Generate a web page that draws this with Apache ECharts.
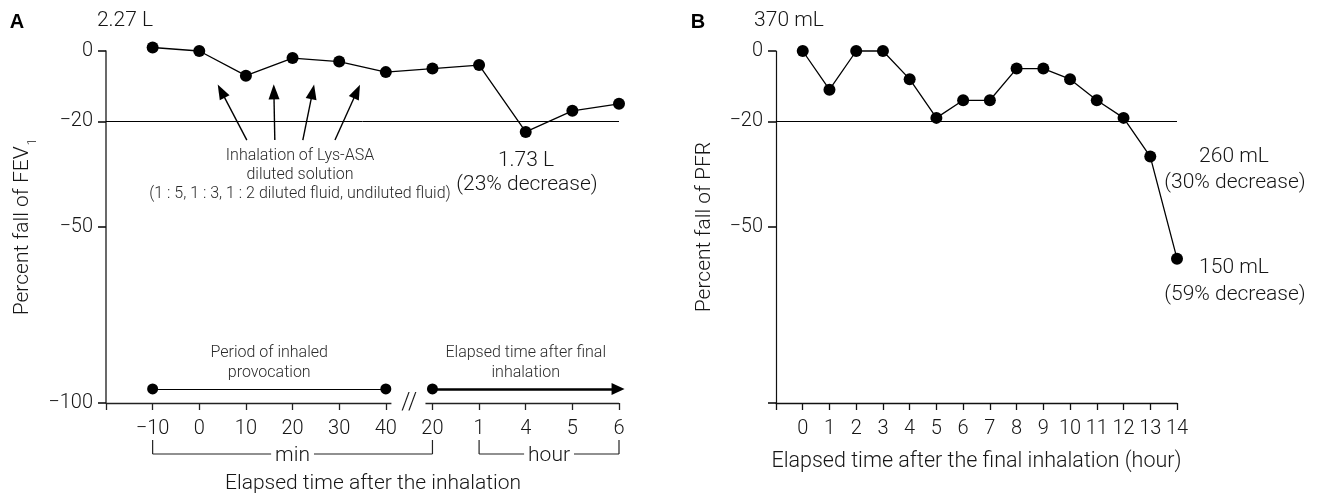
<!DOCTYPE html>
<html><head><meta charset="utf-8">
<script src="https://cdn.jsdelivr.net/npm/echarts@6/dist/echarts.min.js"></script>
<style>html,body{margin:0;padding:0;background:#fff}#c{width:1317px;height:499px}</style>
</head><body><div id="c"></div>
<script>
// ---------- data ----------
const ticksA = ['', '\u221210', '0', '10', '20', '30', '40', '20', '1', '4', '5', '6'];
const fevFall = [1, 0, -7, -2, -3, -6, -5, -4, -23, -17, -15];      // slots 1..11 of panel A
const hoursB = ['0','1','2','3','4','5','6','7','8','9','10','11','12','13','14'];
const pfrFall = [0, -11, 0, 0, -8, -19, -14, -14, -5, -5, -8, -14, -19, -30, -59];
const yTicks = [-100, -50, -20, 0];
const yLabelsB = [-50, -20, 0];
const threshold = -20;
// annotation arrows in panel A (from label up toward the early points), [x, y] in data units
const arrowsA = [
  [[3.02, -25.3], [2.47, -11.4]],
  [[3.62, -25.3], [3.60, -11.6]],
  [[4.22, -25.3], [4.43, -11.6]],
  [[4.91, -25.3], [5.38, -11.5]]
];
const periodY = -96;

const FONT = 'Roboto, "Liberation Sans", Arial, sans-serif';
const TXT = '#161616';
const minus = v => String(v).replace('-', '\u2212');

const chart = echarts.init(document.getElementById('c'));

const lineSty = { color: '#000', width: 1, type: 'solid' };

const markA = [
  [{ coord: [0, threshold] }, { coord: [11, threshold] }],
  // x-axis with break
  [{ coord: [0, -100], lineStyle: { color: '#222', width: 1.4 } }, { coord: [6.12, -100] }],
  [{ coord: [6.85, -100], lineStyle: { color: '#222', width: 1.4 } }, { coord: [11, -100] }],
  // period of inhaled provocation
  [{ coord: [1, periodY], symbol: 'circle', symbolSize: 11, lineStyle: { width: 1.2, color: '#000' } },
   { coord: [6, periodY], symbol: 'circle', symbolSize: 11 }],
  // elapsed time after final inhalation
  [{ coord: [7, periodY], symbol: 'circle', symbolSize: 11, lineStyle: { width: 2.6, color: '#000' } },
   { coord: [10.98, periodY], symbol: 'triangle', symbolSize: [12, 13] }]
];
arrowsA.forEach(a => {
  markA.push([{ coord: a[0], lineStyle: { width: 1.4, color: '#000' } },
              { coord: a[1], symbol: 'triangle', symbolSize: [11, 15] }]);
});

const yAxisCommon = (gridIndex, labelVals, lineColor, lineW, name, nameGap, nameSize) => ({
  type: 'value', gridIndex, min: -100, max: 0,
  splitLine: { show: false },
  axisLine: { show: true, onZero: false, lineStyle: { color: lineColor, width: lineW } },
  axisTick: { show: true, customValues: yTicks, length: 8, lineStyle: { color: '#111', width: 1.6 } },
  axisLabel: { customValues: labelVals, formatter: minus, fontFamily: FONT, fontWeight: 300, fontSize: 20, color: TXT, margin: 13 },
  name, nameLocation: 'middle', nameRotate: 90, nameGap,
  nameTextStyle: { fontFamily: FONT, fontWeight: 300, fontSize: nameSize, color: TXT,
    rich: { sub: { fontFamily: FONT, fontWeight: 300, fontSize: 12, color: TXT, verticalAlign: 'bottom', padding: [0, 0, -6, 1] } } }
});

const option = {
  animation: false,
  backgroundColor: '#fff',
  grid: [
    { left: 106, top: 51, width: 513, height: 352 },
    { left: 776, top: 51, width: 401, height: 352 }
  ],
  xAxis: [
    { type: 'value', gridIndex: 0, min: 0, max: 11, interval: 1,
      splitLine: { show: false }, axisLine: { show: false, onZero: false },
      axisTick: { show: true, length: 7, lineStyle: { color: '#222', width: 1.3 } },
      axisLabel: { formatter: v => ticksA[v] || '', fontFamily: FONT, fontWeight: 300, fontSize: 20, color: TXT, margin: 16 } },
    { type: 'value', gridIndex: 1, min: 0, max: 15, interval: 1,
      splitLine: { show: false },
      axisLine: { show: true, onZero: false, lineStyle: { color: '#111', width: 1.3 } },
      axisTick: { show: true, length: 7, lineStyle: { color: '#111', width: 1.3 } },
      axisLabel: { formatter: v => (v === 0 ? '' : hoursB[v - 1]), fontFamily: FONT, fontWeight: 300, fontSize: 20, color: TXT, margin: 16 },
      name: 'Elapsed time after the final inhalation (hour)', nameLocation: 'middle', nameGap: 48,
      nameTextStyle: { fontFamily: FONT, fontWeight: 300, fontSize: 21.5, color: TXT } }
  ],
  yAxis: [
    yAxisCommon(0, yTicks, '#444', 1.6, 'Percent fall of FEV{sub|1}', 73, 21),
    yAxisCommon(1, yLabelsB, '#111', 1.2, 'Percent fall of PFR', 61, 21)
  ],
  series: [
    { type: 'line', xAxisIndex: 0, yAxisIndex: 0, clip: false, silent: true,
      data: fevFall.map((v, i) => [i + 1, v]),
      symbol: 'circle', symbolSize: 12, itemStyle: { color: '#000' },
      lineStyle: { color: '#000', width: 1.3 },
      markLine: { silent: true, symbol: ['none', 'none'], label: { show: false }, lineStyle: lineSty,
        emphasis: { disabled: true }, data: markA } },
    { type: 'line', xAxisIndex: 1, yAxisIndex: 1, clip: false, silent: true,
      data: pfrFall.map((v, i) => [i + 1, v]),
      symbol: 'circle', symbolSize: 12, itemStyle: { color: '#000' },
      lineStyle: { color: '#000', width: 1.3 },
      markLine: { silent: true, symbol: ['none', 'none'], label: { show: false }, lineStyle: lineSty,
        emphasis: { disabled: true },
        data: [[{ coord: [0, threshold] }, { coord: [15, threshold] }]] } }
  ]
};
chart.setOption(option);

// ---------- annotations ----------
const px = (g, x, y) => chart.convertToPixel({ gridIndex: g }, [x, y]);
const bottomY = px(0, 0, -100)[1];
const t = (text, x, y, size, extra) => ({
  type: 'text', x, y, silent: true,
  style: Object.assign({ text, fontFamily: FONT, fontWeight: 300, fontSize: size, fill: TXT,
    align: 'center', verticalAlign: 'middle' }, extra || {})
});
const seg = (x1, y1, x2, y2) => ({ type: 'line', silent: true, shape: { x1, y1, x2, y2 },
  style: { stroke: '#222', lineWidth: 1.2 } });

const bTop = bottomY + 37, bBot = bottomY + 51;
const xs = k => px(0, k, -100)[0];
const bracket = (k1, k2, label) => {
  const a = xs(k1), b = xs(k2);
  return [seg(a, bTop, a, bBot), seg(a, bBot, b, bBot), seg(b, bTop, b, bBot),
    t(label, (a + b) / 2, bBot + 2, 21, { backgroundColor: '#fff', padding: [0, 4] })];
};

const SMALL = 16;
const gA = [
  t('A', 17, 22, 20, { fontFamily: '"Liberation Sans", Arial, sans-serif', fontWeight: 'bold', fill: '#000' }),
  t('2.27 L', 125, 21, 21),
  t('1.73 L', 526, 161, 21),
  t('(23% decrease)', 527, 185, 21),
  t('Inhalation of Lys-ASA', 300, 156, SMALL, { fill: '#2a2a2a' }),
  t('diluted solution', 300, 175, SMALL, { fill: '#2a2a2a' }),
  t('(1 : 5, 1 : 3, 1 : 2 diluted fluid, undiluted fluid)', 300, 194, SMALL, { fill: '#2a2a2a' }),
  t('Period of inhaled', (xs(1) + xs(6)) / 2, 353, SMALL, { fill: '#2a2a2a' }),
  t('provocation', (xs(1) + xs(6)) / 2, 373, SMALL, { fill: '#2a2a2a' }),
  t('Elapsed time after final', (xs(7) + xs(11)) / 2, 353, SMALL, { fill: '#2a2a2a' }),
  t('inhalation', (xs(7) + xs(11)) / 2, 373, SMALL, { fill: '#2a2a2a' }),
  t('//', (xs(6) + xs(7)) / 2, bottomY, 23),
  t('Elapsed time after the inhalation', 373, 484, 21)
].concat(bracket(1, 7, 'min'), bracket(8, 11, 'hour'));

const gB = [
  t('B', 698, 22, 20, { fontFamily: '"Liberation Sans", Arial, sans-serif', fontWeight: 'bold', fill: '#000' }),
  t('370 mL', 789, 21, 21),
  t('260 mL', 1234, 157, 21),
  t('(30% decrease)', 1235, 183, 21),
  t('150 mL', 1234, 268, 21),
  t('(59% decrease)', 1235, 295, 21)
];

chart.setOption({ graphic: gA.concat(gB) });
</script>
</body></html>
